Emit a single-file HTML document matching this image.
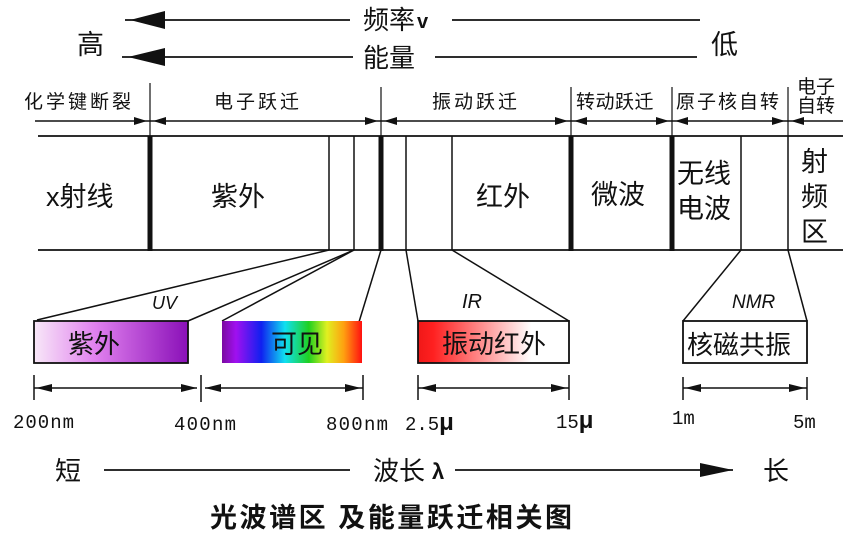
<!DOCTYPE html>
<html><head><meta charset="utf-8"><style>
html,body{margin:0;padding:0;background:#fff;}
svg{display:block;}
text{font-family:"Liberation Sans","Noto Sans CJK SC",sans-serif;fill:#111;}
.m{font-family:"Liberation Mono","Noto Sans CJK SC",monospace;}
</style></head><body>
<svg width="851" height="537" viewBox="0 0 851 537" xmlns="http://www.w3.org/2000/svg">
<defs>
<linearGradient id="uv" x1="0" x2="1"><stop offset="0" stop-color="#f8e8f8"/><stop offset="0.4" stop-color="#e080ee"/><stop offset="1" stop-color="#8a10b8"/></linearGradient>
<linearGradient id="vis" x1="0" x2="1"><stop offset="0" stop-color="#7a0aa0"/><stop offset="0.1" stop-color="#a010f0"/><stop offset="0.28" stop-color="#1020f0"/><stop offset="0.45" stop-color="#10e0f0"/><stop offset="0.62" stop-color="#20d020"/><stop offset="0.75" stop-color="#e0f020"/><stop offset="0.87" stop-color="#ffa010"/><stop offset="1" stop-color="#ff1010"/></linearGradient>
<linearGradient id="ir" x1="0" x2="1"><stop offset="0" stop-color="#f01818"/><stop offset="0.1" stop-color="#ff2020"/><stop offset="0.75" stop-color="#ffffff"/><stop offset="1" stop-color="#fff"/></linearGradient>
</defs>
<g stroke="#111" stroke-width="1.8" fill="none">
<line x1="125" y1="20" x2="350" y2="20"/><line x1="452" y1="20" x2="700" y2="20"/>
<line x1="122" y1="57" x2="353" y2="57"/><line x1="435" y1="57" x2="697" y2="57"/>
</g>
<polygon points="130,20 165,11 165,29" fill="#111"/>
<polygon points="128,57 165,48 165,66" fill="#111"/>
<text x="363" y="29" font-size="26">频率</text><text x="417" y="28" font-size="20" font-weight="bold">v</text>
<text x="363" y="67" font-size="26">能量</text>
<text x="77" y="54" font-size="27">高</text><text x="711" y="54" font-size="27">低</text>
<!-- top labels -->
<g font-size="19" letter-spacing="3">
<text x="24" y="108">化学键断裂</text><text x="214" y="108">电子跃迁</text>
<text x="432" y="108">振动跃迁</text><text x="576" y="108" letter-spacing="0.5">转动跃迁</text>
<text x="676" y="108" letter-spacing="2">原子核自转</text>
<text x="797" y="93" letter-spacing="0">电子</text><text x="797" y="112" letter-spacing="0">自转</text>
</g>
<g stroke="#111" stroke-width="1.2">
<line x1="150" y1="83" x2="150" y2="136"/><line x1="381" y1="87" x2="381" y2="136"/>
<line x1="571" y1="87" x2="571" y2="136"/><line x1="672" y1="87" x2="672" y2="136"/>
<line x1="788" y1="87" x2="788" y2="136"/>
<line x1="35" y1="121" x2="843" y2="121" stroke-width="1.5"/>
</g>
<g fill="#111">
<polygon points="147,121 134,117 134,125"/><polygon points="153,121 166,117 166,125"/>
<polygon points="378,121 365,117 365,125"/><polygon points="384,121 397,117 397,125"/>
<polygon points="568,121 555,117 555,125"/><polygon points="574,121 587,117 587,125"/>
<polygon points="669,121 656,117 656,125"/><polygon points="675,121 688,117 688,125"/>
<polygon points="785,121 772,117 772,125"/><polygon points="791,121 804,117 804,125"/>
</g>
<!-- band -->
<g stroke="#111" stroke-width="1.8">
<line x1="38" y1="136" x2="843" y2="136"/><line x1="38" y1="250" x2="843" y2="250"/>
</g>
<g stroke="#111" stroke-width="5">
<line x1="150" y1="136" x2="150" y2="251"/><line x1="381" y1="136" x2="381" y2="251"/>
<line x1="571" y1="136" x2="571" y2="251"/><line x1="672" y1="136" x2="672" y2="251"/>
</g>
<g stroke="#111" stroke-width="1.5">
<line x1="329" y1="136" x2="329" y2="250"/><line x1="354" y1="136" x2="354" y2="250"/>
<line x1="406" y1="136" x2="406" y2="250"/><line x1="452" y1="136" x2="452" y2="250"/>
<line x1="741" y1="136" x2="741" y2="250"/><line x1="788" y1="136" x2="788" y2="250"/>
</g>
<g font-size="27">
<text x="46" y="206">x射线</text><text x="211" y="206">紫外</text>
<text x="476" y="206">红外</text><text x="591" y="204">微波</text>
<text x="677" y="183">无线</text><text x="677" y="218">电波</text>
<text x="801" y="171">射</text><text x="801" y="206">频</text><text x="801" y="241">区</text>
</g>
<!-- funnels -->
<g stroke="#111" stroke-width="1.5" fill="none">
<line x1="329" y1="250" x2="37" y2="320"/><line x1="354" y1="250" x2="188" y2="321"/>
<line x1="354" y1="250" x2="222" y2="321"/><line x1="381" y1="250" x2="359" y2="322"/>
<line x1="406" y1="250" x2="418" y2="321"/><line x1="452" y1="250" x2="569" y2="321"/>
<line x1="741" y1="250" x2="683" y2="321"/><line x1="788" y1="250" x2="807" y2="321"/>
</g>
<text x="152" y="309" font-size="18" font-style="italic" font-family="Liberation Serif,serif">UV</text>
<text x="462" y="308" font-size="20" font-style="italic" font-family="Liberation Serif,serif">IR</text>
<text x="732" y="308" font-size="19" font-style="italic" font-family="Liberation Serif,serif">NMR</text>
<rect x="34" y="321" width="154" height="42" fill="url(#uv)" stroke="#111" stroke-width="1.8"/>
<rect x="222" y="321" width="140" height="42" fill="url(#vis)"/>
<rect x="418" y="321" width="151" height="42" fill="url(#ir)" stroke="#111" stroke-width="1.8"/>
<rect x="683" y="321" width="124" height="42" fill="#fff" stroke="#111" stroke-width="1.8"/>
<g font-size="26">
<text x="68" y="353">紫外</text><text x="271" y="353">可见</text>
<text x="442" y="353">振动红外</text><text x="687" y="354">核磁共振</text>
</g>
<!-- dimensions -->
<g stroke="#111" stroke-width="1.5">
<line x1="34" y1="375" x2="34" y2="400"/><line x1="201" y1="375" x2="201" y2="402"/><line x1="363" y1="375" x2="363" y2="400"/>
<line x1="418" y1="375" x2="418" y2="400"/><line x1="569" y1="375" x2="569" y2="400"/>
<line x1="683" y1="377" x2="683" y2="400"/><line x1="807" y1="377" x2="807" y2="400"/>
<line x1="34" y1="388" x2="197" y2="388"/><line x1="205" y1="388" x2="363" y2="388"/>
<line x1="418" y1="388" x2="569" y2="388"/><line x1="683" y1="388" x2="807" y2="388"/>
</g>
<g fill="#111">
<polygon points="36,388 52,384 52,392"/><polygon points="197,388 181,384 181,392"/>
<polygon points="205,388 221,384 221,392"/><polygon points="361,388 345,384 345,392"/>
<polygon points="420,388 436,384 436,392"/><polygon points="567,388 551,384 551,392"/>
<polygon points="685,388 701,384 701,392"/><polygon points="805,388 789,384 789,392"/>
</g>
<g font-size="19">
<text x="13" y="428" class="m" textLength="61">200nm</text><text x="174" y="430" class="m" textLength="62">400nm</text>
<text x="326" y="430" class="m" textLength="62">800nm</text><text x="405" y="430" class="m">2.5<tspan font-size="24" font-weight="bold">μ</tspan></text>
<text x="556" y="428" class="m">15<tspan font-size="24" font-weight="bold">μ</tspan></text>
<text x="672" y="424" class="m">1m</text><text x="793" y="428" class="m">5m</text>
</g>
<!-- wavelength -->
<text x="55" y="480" font-size="26">短</text>
<line x1="104" y1="470" x2="350" y2="470" stroke="#111" stroke-width="1.8"/>
<text x="373" y="480" font-size="26">波长</text><text x="432" y="479" font-size="22" font-weight="bold">λ</text>
<line x1="455" y1="470" x2="733" y2="470" stroke="#111" stroke-width="1.8"/>
<polygon points="733,470 700,463 700,477" fill="#111"/>
<text x="763" y="480" font-size="26">长</text>
<text x="210" y="527" font-size="27" font-weight="bold" textLength="362">光波谱区 及能量跃迁相关图</text>
</svg>
</body></html>
